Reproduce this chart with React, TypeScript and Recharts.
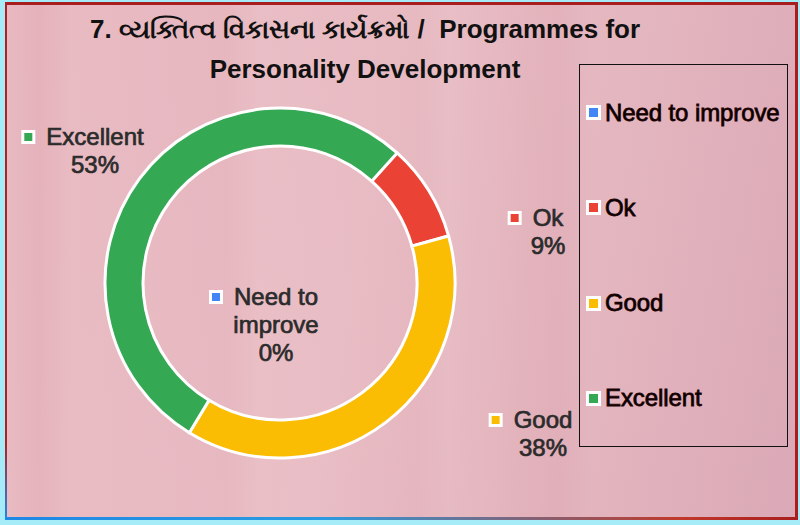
import React from 'react';
import { PieChart, Pie, Cell, Legend } from 'recharts';

const categories = ['Need to improve', 'Ok', 'Good', 'Excellent'];
const values = [0, 9, 38, 53];
const colors = ['#4285f4', '#ea4335', '#fbbc04', '#34a853'];
const titleLines = ['7. વ્યક્તિત્વ વિકાસના કાર્યક્રમો /  Programmes for', 'Personality Development'];
const labelLines = [['Need to', 'improve'], ['Ok'], ['Good'], ['Excellent']];

// label placement: offset of the text block (first line centre) from pie centre
const labelPlacement = [
  { dx: -4, dy: 14 },
  { dx: 268, dy: -65 },
  { dx: 263, dy: 137 },
  { dx: -185, dy: -146 },
];

const data = categories.map((name, i) => ({ name, value: values[i], color: colors[i] }));

const FONT = '"Liberation Sans", Arial, sans-serif';
const LINE_H = 28;

let ctx: CanvasRenderingContext2D | null = null;
function measure(t: string, size: number) {
  if (!ctx) {
    const c = document.createElement('canvas');
    ctx = c.getContext('2d');
  }
  if (!ctx) return t.length * size * 0.55;
  ctx.font = `${size}px "Liberation Sans", Arial, sans-serif`;
  return ctx.measureText(t).width;
}

const renderLabel = (props: any) => {
  const { cx, cy, index, percent } = props;
  const p = labelPlacement[index];
  const x = cx + p.dx;
  const y0 = cy + p.dy;
  const lines = [...labelLines[index], `${Math.round(percent * 100)}%`];
  const w = measure(lines[0], 24);
  const sqRight = x - w / 2 - 11;
  return (
    <g key={`lbl-${index}`}>
      <rect x={sqRight - 14} y={y0 - 7} width={14} height={14} fill="#ffffff" />
      <rect x={sqRight - 11} y={y0 - 4} width={8} height={8} fill={colors[index]} />
      {lines.map((l, k) => (
        <text
          key={k}
          x={x}
          y={y0 + k * LINE_H + 8}
          textAnchor="middle"
          fontFamily={FONT}
          fontSize={24}
          fill="#2b2b2b"
          stroke="#2b2b2b"
          strokeWidth={0.7}
        >
          {l}
        </text>
      ))}
    </g>
  );
};

const LegendBox = () => (
  <div
    style={{
      width: 209,
      height: 383,
      boxSizing: 'border-box',
      border: '1.5px solid #111',
      display: 'flex',
      flexDirection: 'column',
      justifyContent: 'space-around',
      paddingLeft: 6,
    }}
  >
    {categories.map((c, i) => (
      <div key={c} style={{ display: 'flex', alignItems: 'center', height: 28 }}>
        <div
          style={{
            width: 15,
            height: 15,
            background: '#fff',
            boxSizing: 'border-box',
            border: '3px solid #fff',
            marginRight: 4,
          }}
        >
          <div style={{ width: 9, height: 9, background: colors[i] }} />
        </div>
        <span
          style={{
            fontFamily: FONT,
            fontSize: 24,
            color: '#000',
            WebkitTextStroke: '0.8px #200',
            letterSpacing: -0.1,
            whiteSpace: 'nowrap',
          }}
        >
          {c}
        </span>
      </div>
    ))}
  </div>
);

export default function App() {
  return (
    <div style={{ position: 'fixed', left: 0, top: 0, width: 800, height: 525, background: '#a6ebf8', overflow: 'hidden' }}>
      <div
        style={{
          position: 'absolute',
          left: 7,
          top: 5,
          width: 788,
          height: 512,
          background:
            'linear-gradient(90deg, rgba(200,110,130,0) 0%, rgba(200,110,130,0.1) 4%, rgba(200,110,130,0) 8%, rgba(200,110,130,0.08) 28%, rgba(200,110,130,0) 32%, rgba(200,110,130,0.08) 52%, rgba(200,110,130,0) 56%, rgba(200,110,130,0.1) 70%, rgba(200,110,130,0) 74%), linear-gradient(100deg, #e8b9c1 0%, #eac0c7 45%, #e3b5be 75%, #daa8b6 100%)',
        }}
      />
      {/* frame lines */}
      <div style={{ position: 'absolute', left: 5, top: 2, width: 792, height: 3, background: '#a81e1e' }} />
      <div style={{ position: 'absolute', left: 795, top: 2, width: 3, height: 518, background: '#a81e1e' }} />
      <div style={{ position: 'absolute', left: 5, top: 2, width: 2, height: 518, background: 'linear-gradient(180deg, #b02020 0%, #b02020 85%, #1e88e5 100%)' }} />
      <div style={{ position: 'absolute', left: 5, top: 517, width: 793, height: 3, background: 'linear-gradient(90deg, #1e88e5 0%, #2a9be0 40%, #c0392b 85%, #a81e1e 100%)' }} />

      {titleLines.map((t, i) => (
        <div
          key={i}
          style={{
            position: 'absolute',
            left: 0,
            width: 730,
            top: i === 0 ? 13 : 53,
            textAlign: 'center',
            fontFamily: FONT,
            fontWeight: 'bold',
            fontSize: 26,
            color: '#111',
            lineHeight: '32px',
            whiteSpace: 'pre',
          }}
        >
          {t}
        </div>
      ))}

      <div style={{ position: 'absolute', left: 0, top: 0 }}>
        <PieChart width={800} height={525} margin={{ top: 0, right: 0, bottom: 0, left: 0 }}>
          <Pie
            data={data}
            dataKey="value"
            nameKey="name"
            cx={280}
            cy={283}
            outerRadius={175}
            innerRadius={137}
            startAngle={48}
            endAngle={-312}
            stroke="#ffffff"
            strokeWidth={3}
            label={renderLabel}
            labelLine={false}
            isAnimationActive={false}
          >
            {data.map((d, i) => (
              <Cell key={i} fill={d.color} />
            ))}
          </Pie>
          <Legend
            content={() => <LegendBox />}
            wrapperStyle={{ position: 'absolute', left: 579, top: 64, width: 209, height: 383 }}
          />
        </PieChart>
      </div>
    </div>
  );
}
